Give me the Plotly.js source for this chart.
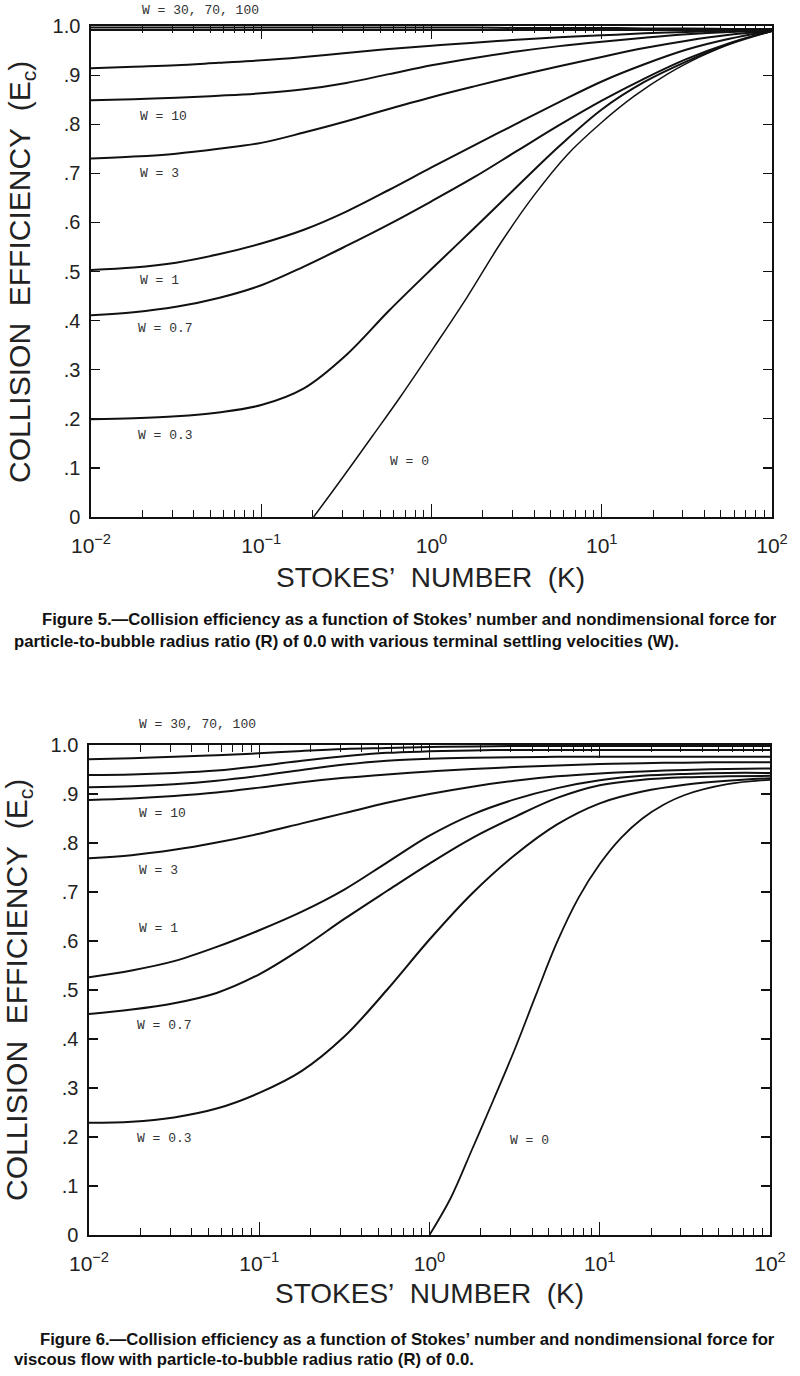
<!DOCTYPE html>
<html><head><meta charset="utf-8">
<script src="https://cdn.plot.ly/plotly-3.0.1.min.js"></script>
<style>html,body{margin:0;padding:0;background:#fff}</style>
</head><body><div id="chart" style="width:800px;height:1376px"></div>
<script>
// ---------- tick labels ----------
const kTickVals = [0.01, 0.1, 1, 10, 100];
const kTickText = ['10<sup>−2</sup>', '10<sup>−1</sup>', '10<sup>0</sup>', '10<sup>1</sup>', '10<sup>2</sup>'];
const eTickVals = [0, 0.1, 0.2, 0.3, 0.4, 0.5, 0.6, 0.7, 0.8, 0.9, 1.0];
const eTickText = ['0', '.1', '.2', '.3', '.4', '.5', '.6', '.7', '.8', '.9', '1.0'];

// ---------- Stokes' number sample points ----------
const kGrid = [0.01, 0.0178, 0.0316, 0.0562, 0.1, 0.178, 0.316, 0.562, 1, 1.78, 3.16, 5.62, 10, 17.8, 31.6, 56.2, 100];

// ---------- Figure 5 (collision efficiency E) ----------
const fig5_W100 = [0.997, 0.997, 0.997, 0.997, 0.997, 0.997, 0.997, 0.997, 0.997, 0.997, 0.996, 0.996, 0.996, 0.995, 0.995, 0.994, 0.994];
const fig5_W70  = [0.992, 0.992, 0.992, 0.992, 0.992, 0.992, 0.992, 0.992, 0.992, 0.992, 0.992, 0.992, 0.992, 0.992, 0.992, 0.992, 0.992];
const fig5_W30  = [0.914, 0.917, 0.920, 0.925, 0.930, 0.937, 0.945, 0.953, 0.960, 0.966, 0.972, 0.977, 0.981, 0.985, 0.988, 0.990, 0.991];
const fig5_W10  = [0.849, 0.851, 0.854, 0.858, 0.863, 0.871, 0.884, 0.902, 0.920, 0.935, 0.948, 0.959, 0.968, 0.976, 0.983, 0.988, 0.991];
const fig5_W3   = [0.730, 0.734, 0.740, 0.750, 0.762, 0.783, 0.806, 0.831, 0.855, 0.877, 0.898, 0.918, 0.937, 0.955, 0.970, 0.982, 0.990];
const fig5_W1   = [0.503, 0.508, 0.518, 0.535, 0.557, 0.585, 0.622, 0.666, 0.712, 0.757, 0.801, 0.845, 0.887, 0.922, 0.952, 0.974, 0.990];
const fig5_W07  = [0.411, 0.417, 0.428, 0.446, 0.472, 0.510, 0.552, 0.596, 0.643, 0.692, 0.745, 0.798, 0.848, 0.893, 0.933, 0.965, 0.990];
const fig5_W03  = [0.199, 0.201, 0.205, 0.213, 0.228, 0.262, 0.330, 0.420, 0.505, 0.588, 0.672, 0.755, 0.830, 0.886, 0.928, 0.963, 0.990];
const fig5_W0_K = [0.203, 0.3, 0.45, 0.657, 1.03, 1.62, 2.55, 4.0, 6.28, 9.86, 15.5, 24.3, 38.2, 60, 100];
const fig5_W0   = [0, 0.080, 0.165, 0.245, 0.345, 0.448, 0.558, 0.655, 0.738, 0.802, 0.857, 0.902, 0.938, 0.967, 0.990];

// ---------- Figure 6 ----------
const fig6_W100 = [0.971, 0.973, 0.976, 0.979, 0.983, 0.988, 0.992, 0.994, 0.996, 0.997, 0.998, 0.998, 0.998, 0.998, 0.998, 0.998, 0.998];
const fig6_W70  = [0.939, 0.940, 0.943, 0.948, 0.957, 0.968, 0.977, 0.984, 0.987, 0.989, 0.990, 0.990, 0.990, 0.990, 0.990, 0.990, 0.990];
const fig6_W30  = [0.914, 0.916, 0.920, 0.927, 0.937, 0.949, 0.960, 0.968, 0.972, 0.974, 0.975, 0.976, 0.976, 0.976, 0.976, 0.976, 0.976];
const fig6_W10  = [0.888, 0.891, 0.896, 0.903, 0.913, 0.924, 0.933, 0.940, 0.946, 0.951, 0.955, 0.958, 0.961, 0.963, 0.964, 0.965, 0.965];
const fig6_W3   = [0.769, 0.775, 0.786, 0.801, 0.819, 0.840, 0.861, 0.882, 0.900, 0.915, 0.927, 0.936, 0.942, 0.946, 0.949, 0.951, 0.952];
const fig6_W1   = [0.526, 0.540, 0.559, 0.588, 0.622, 0.660, 0.705, 0.760, 0.815, 0.858, 0.889, 0.912, 0.928, 0.937, 0.941, 0.943, 0.943];
const fig6_W07  = [0.451, 0.460, 0.473, 0.494, 0.532, 0.585, 0.645, 0.702, 0.758, 0.810, 0.853, 0.892, 0.918, 0.929, 0.934, 0.936, 0.937];
const fig6_W03  = [0.229, 0.231, 0.240, 0.258, 0.290, 0.335, 0.405, 0.500, 0.603, 0.697, 0.775, 0.838, 0.881, 0.905, 0.919, 0.927, 0.932];
const fig6_W0_K = [1, 1.33, 1.78, 2.37, 3.16, 4.22, 5.62, 7.5, 10, 13.3, 17.8, 23.7, 31.6, 56.2, 100];
const fig6_W0   = [0, 0.075, 0.175, 0.275, 0.378, 0.490, 0.598, 0.688, 0.757, 0.810, 0.850, 0.878, 0.898, 0.920, 0.929];

// ---------- texts ----------
const xTitle = 'STOKES\u2019\u00a0\u00a0NUMBER\u00a0\u00a0(K)';
const yTitle = 'COLLISION\u00a0\u00a0EFFICIENCY\u00a0\u00a0(E<sub>c</sub>)';
const fig5Labels = ['W = 30, 70, 100', 'W = 10', 'W = 3', 'W = 1', 'W = 0.7', 'W = 0.3', 'W = 0'];
const fig6Labels = ['W = 30, 70, 100', 'W = 10', 'W = 3', 'W = 1', 'W = 0.7', 'W = 0.3', 'W = 0'];
const fig5Caption = ['Figure 5.\u2014Collision efficiency as a function of Stokes\u2019 number and nondimensional force for',
                     'particle-to-bubble radius ratio (R) of 0.0 with various terminal settling velocities (W).'];
const fig6Caption = ['Figure 6.\u2014Collision efficiency as a function of Stokes\u2019 number and nondimensional force for',
                     'viscous flow with particle-to-bubble radius ratio (R) of 0.0.'];

// ---------- layout helpers ----------
const W = 800, H = 1376;
const px = v => v / W;
const py = v => 1 - v / H;

function line(x, y, name, xa, ya, width) {
  return {x: x, y: y, name: name, xaxis: xa, yaxis: ya, type: 'scatter', mode: 'lines',
          line: {color: '#111', width: width || 2, shape: 'spline', smoothing: 1},
          showlegend: false, hoverinfo: 'x+y+name'};
}

const traces = [
  line(kGrid, fig5_W100, 'W = 100', 'x', 'y'),
  line(kGrid, fig5_W70, 'W = 70', 'x', 'y'),
  line(kGrid, fig5_W30, 'W = 30', 'x', 'y'),
  line(kGrid, fig5_W10, 'W = 10', 'x', 'y'),
  line(kGrid, fig5_W3, 'W = 3', 'x', 'y'),
  line(kGrid, fig5_W1, 'W = 1', 'x', 'y'),
  line(kGrid, fig5_W07, 'W = 0.7', 'x', 'y'),
  line(kGrid, fig5_W03, 'W = 0.3', 'x', 'y'),
  line(fig5_W0_K, fig5_W0, 'W = 0', 'x', 'y', 1.5),
  line(kGrid, fig6_W100, 'W = 100', 'x2', 'y2'),
  line(kGrid, fig6_W70, 'W = 70', 'x2', 'y2'),
  line(kGrid, fig6_W30, 'W = 30', 'x2', 'y2'),
  line(kGrid, fig6_W10, 'W = 10', 'x2', 'y2'),
  line(kGrid, fig6_W3, 'W = 3', 'x2', 'y2'),
  line(kGrid, fig6_W1, 'W = 1', 'x2', 'y2'),
  line(kGrid, fig6_W07, 'W = 0.7', 'x2', 'y2'),
  line(kGrid, fig6_W03, 'W = 0.3', 'x2', 'y2'),
  line(fig6_W0_K, fig6_W0, 'W = 0', 'x2', 'y2', 1.8)
];

const minorVals = [];
for (let d = -2; d < 2; d++) for (let m = 2; m <= 9; m++) minorVals.push(m * Math.pow(10, d));

const yTickFont = {family: 'Liberation Sans, Arial, sans-serif', size: 20, color: '#222'};
const xTickFont = {family: 'Liberation Sans, Arial, sans-serif', size: 21, color: '#222'};
function xAxis(domain, anchor) {
  return {type: 'log', range: [-2, 2], domain: domain, anchor: anchor,
          tickmode: 'array', tickvals: kTickVals, ticktext: kTickText,
          ticks: 'inside', ticklen: 13, tickwidth: 1.2, tickcolor: '#111',
          minor: {tickmode: 'array', tickvals: minorVals, ticks: 'inside', ticklen: 7, tickwidth: 1, tickcolor: '#111', showgrid: false},
          showline: true, linecolor: '#111', linewidth: 1.6, mirror: 'ticks',
          showgrid: false, zeroline: false, tickfont: xTickFont, ticklabelstandoff: 9, fixedrange: true};
}
function yAxis(domain, anchor) {
  return {range: [0, 1], domain: domain, anchor: anchor,
          tickmode: 'array', tickvals: eTickVals, ticktext: eTickText,
          ticks: 'inside', ticklen: 9, tickwidth: 1.2, tickcolor: '#111',
          showline: true, linecolor: '#111', linewidth: 1.6, mirror: 'ticks',
          showgrid: false, zeroline: false, tickfont: yTickFont, ticklabelstandoff: 5, fixedrange: true};
}

const labFont = {family: 'Liberation Mono, DejaVu Sans Mono, monospace', size: 13, color: '#333'};
const capFont = {family: 'Liberation Sans, Arial, sans-serif', size: 16.7, color: '#111', weight: 700};
const xTitleFont = {family: 'Liberation Sans, Arial, sans-serif', size: 28, color: '#222'};
const yTitleFont = {family: 'Liberation Sans, Arial, sans-serif', size: 30, color: '#222'};

function ann(text, x, y, font, opts) {
  return Object.assign({text: text, xref: 'paper', yref: 'paper', x: px(x), y: py(y),
                        xanchor: 'left', yanchor: 'middle', showarrow: false, font: font}, opts || {});
}

const fig5LabelPos = [[140, 11], [138, 116], [138, 173], [138, 280], [136, 328], [136, 435], [388, 461]];
const fig6LabelPos = [[137, 724], [137, 813], [137, 870], [137, 928], [135, 1025], [135, 1138], [508, 1140]];

const annotations = [];
fig5Labels.forEach((t, i) => annotations.push(ann(t, fig5LabelPos[i][0], fig5LabelPos[i][1], labFont)));
fig6Labels.forEach((t, i) => annotations.push(ann(t, fig6LabelPos[i][0], fig6LabelPos[i][1], labFont)));
annotations.push(ann(xTitle, 431, 577, xTitleFont, {xanchor: 'center'}));
annotations.push(ann(xTitle, 429, 1293, xTitleFont, {xanchor: 'center'}));
annotations.push(ann(yTitle, 21, 272, yTitleFont, {xanchor: 'center', textangle: -90}));
annotations.push(ann(yTitle, 19, 990, yTitleFont, {xanchor: 'center', textangle: -90}));
annotations.push(ann(fig5Caption[0], 40, 619, capFont));
annotations.push(ann(fig5Caption[1], 12, 641, capFont));
annotations.push(ann(fig6Caption[0], 38, 1339, capFont));
annotations.push(ann(fig6Caption[1], 12, 1359, capFont));

const layout = {
  width: W, height: H, margin: {l: 0, r: 0, t: 0, b: 0},
  paper_bgcolor: '#fff', plot_bgcolor: '#fff', showlegend: false,
  xaxis: xAxis([px(91), px(772)], 'y'),
  yaxis: yAxis([py(517), py(26)], 'x'),
  xaxis2: xAxis([px(89), px(770)], 'y2'),
  yaxis2: yAxis([py(1235), py(745)], 'x2'),
  annotations: annotations
};

Plotly.newPlot('chart', traces, layout, {staticPlot: true, displayModeBar: false});
</script>
</body></html>
